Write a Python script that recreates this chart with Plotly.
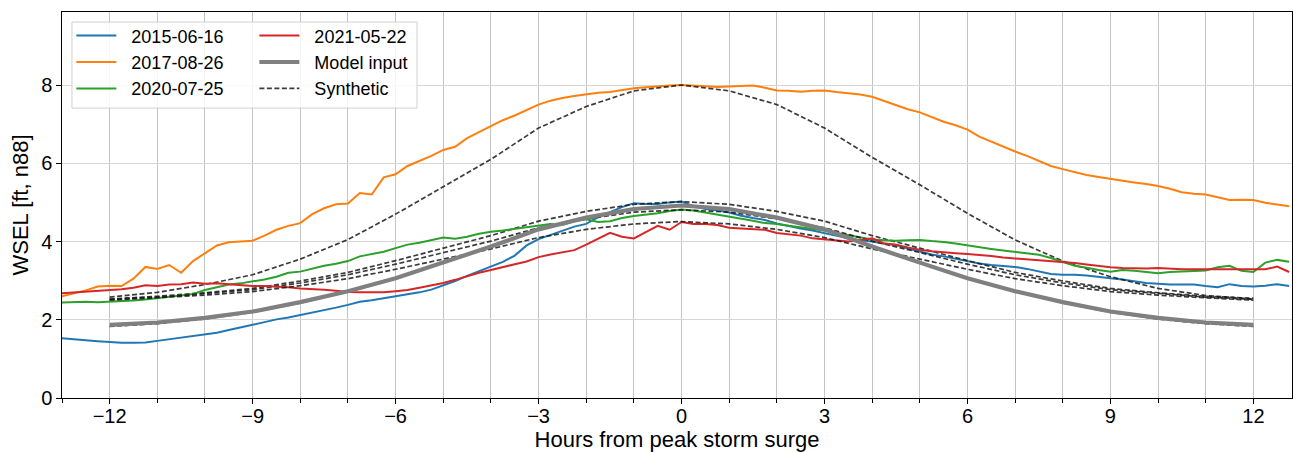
import numpy as np
import plotly.graph_objects as go

# ---------------- data ----------------
# observed water levels, 15-minute samples starting at -13 h (rows = one hour)
obs_2015 = [
    1.53, 1.50, 1.48, 1.45,  1.43, 1.41, 1.41, 1.42,  1.46, 1.50, 1.55, 1.59,
    1.63, 1.67, 1.74, 1.80,  1.87, 1.94, 2.01, 2.06,  2.12, 2.18, 2.25, 2.31,
    2.38, 2.46, 2.50, 2.55,  2.60, 2.64, 2.70, 2.77,  2.87, 2.99, 3.12, 3.24,
    3.35, 3.48, 3.64, 3.90,  4.06, 4.17, 4.28, 4.38,  4.45, 4.62, 4.75, 4.88,
    4.98, 4.96, 4.96, 5.00,  5.02, 4.90, 4.83, 4.80,  4.74, 4.66, 4.60, 4.55,
    4.46, 4.39, 4.33, 4.28,  4.21, 4.15, 4.08, 4.03,  4.00, 3.95, 3.91, 3.82,
    3.74, 3.67, 3.62, 3.56,  3.50, 3.44, 3.40, 3.38,  3.35, 3.30, 3.24, 3.17,
    3.15, 3.15, 3.13, 3.09,  3.06, 3.03, 2.98, 2.94,  2.92, 2.90, 2.90, 2.90,
    2.86, 2.83, 2.91, 2.86,  2.85, 2.87, 2.91, 2.86,
]
obs_2017 = [
    2.60, 2.68, 2.75, 2.85,  2.87, 2.86, 3.05, 3.35,  3.30, 3.40, 3.20, 3.50,
    3.70, 3.90, 3.98, 4.00,  4.02, 4.15, 4.30, 4.40,  4.47, 4.70, 4.85, 4.95,
    4.97, 5.24, 5.20, 5.64,  5.72, 5.93, 6.05, 6.19,  6.34, 6.42, 6.64, 6.80,
    6.96, 7.10, 7.22, 7.37,  7.50, 7.60, 7.67, 7.72,  7.76, 7.80, 7.82, 7.87,
    7.92, 7.94, 7.97, 7.99,  8.00, 7.99, 7.97, 7.95,  7.96, 7.97, 7.99, 7.93,
    7.86, 7.85, 7.83, 7.85,  7.86, 7.82, 7.79, 7.76,  7.70, 7.60, 7.48, 7.38,
    7.30, 7.18, 7.06, 6.97,  6.86, 6.68, 6.55, 6.43,  6.30, 6.19, 6.07, 5.93,
    5.85, 5.77, 5.70, 5.65,  5.60, 5.55, 5.51, 5.47,  5.42, 5.35, 5.26, 5.22,
    5.20, 5.13, 5.06, 5.07,  5.06, 4.99, 4.95, 4.90,
]
obs_2020 = [
    2.44, 2.45, 2.46, 2.45,  2.46, 2.47, 2.49, 2.52,  2.56, 2.59, 2.62, 2.66,
    2.76, 2.83, 2.90, 2.93,  2.98, 3.03, 3.10, 3.20,  3.23, 3.30, 3.38, 3.43,
    3.50, 3.62, 3.68, 3.74,  3.83, 3.92, 3.97, 4.03,  4.10, 4.07, 4.12, 4.20,
    4.25, 4.28, 4.32, 4.37,  4.40, 4.45, 4.42, 4.52,  4.57, 4.50, 4.52, 4.60,
    4.65, 4.68, 4.72, 4.78,  4.82, 4.79, 4.74, 4.68,  4.63, 4.58, 4.53, 4.47,
    4.45, 4.40, 4.36, 4.32,  4.28, 4.22, 4.16, 4.10,  4.05, 4.03, 4.02, 4.03,
    4.04, 4.01, 3.99, 3.95,  3.90, 3.86, 3.81, 3.77,  3.73, 3.70, 3.66, 3.58,
    3.47, 3.38, 3.33, 3.27,  3.23, 3.27, 3.25, 3.22,  3.19, 3.22, 3.23, 3.24,
    3.26, 3.34, 3.38, 3.25,  3.22, 3.46, 3.53, 3.48,
]
obs_2021 = [
    2.68, 2.70, 2.72, 2.73,  2.75, 2.78, 2.82, 2.88,  2.86, 2.90, 2.91, 2.95,
    2.92, 2.93, 2.91, 2.89,  2.86, 2.86, 2.85, 2.83,  2.80, 2.79, 2.77, 2.74,
    2.71, 2.70, 2.70, 2.70,  2.73, 2.76, 2.82, 2.88,  2.94, 3.02, 3.12, 3.20,
    3.27, 3.35, 3.42, 3.49,  3.60, 3.67, 3.72, 3.78,  3.92, 4.06, 4.22, 4.12,
    4.08, 4.24, 4.40, 4.30,  4.50, 4.45, 4.45, 4.42,  4.35, 4.33, 4.32, 4.30,
    4.22, 4.19, 4.15, 4.08,  4.05, 4.03, 4.00, 4.03,  4.08, 3.95, 3.92, 3.85,
    3.79, 3.75, 3.72, 3.70,  3.68, 3.66, 3.63, 3.59,  3.57, 3.55, 3.52, 3.50,
    3.48, 3.45, 3.41, 3.37,  3.34, 3.32, 3.31, 3.31,  3.32, 3.30, 3.29, 3.29,
    3.29, 3.29, 3.29, 3.28,  3.29, 3.29, 3.36, 3.22,
]
OBS_START = -13.0
OBS_STEP = 0.25

# synthetic hydrographs, hourly from -12 h to +12 h
syn_hours = list(range(-12, 13))
syn_2015 = [2.53, 2.60, 2.69, 2.80, 2.99, 3.21, 3.51, 3.83, 4.15, 4.52, 4.77, 4.95, 5.02,
            4.95, 4.77, 4.52, 4.15, 3.83, 3.51, 3.21, 2.99, 2.80, 2.69, 2.60, 2.55]
syn_2017 = [2.58, 2.70, 2.90, 3.15, 3.55, 4.05, 4.70, 5.40, 6.10, 6.90, 7.45, 7.85, 8.00,
            7.85, 7.50, 6.90, 6.15, 5.45, 4.72, 4.04, 3.50, 3.10, 2.80, 2.62, 2.53]
syn_2020 = [2.52, 2.58, 2.67, 2.77, 2.94, 3.15, 3.42, 3.72, 4.01, 4.35, 4.58, 4.75, 4.81,
            4.75, 4.58, 4.35, 4.01, 3.72, 3.42, 3.15, 2.94, 2.77, 2.67, 2.58, 2.52]
syn_2021 = [2.50, 2.56, 2.63, 2.72, 2.87, 3.05, 3.29, 3.55, 3.81, 4.10, 4.31, 4.45, 4.51,
            4.45, 4.31, 4.10, 3.81, 3.55, 3.29, 3.05, 2.87, 2.72, 2.63, 2.56, 2.50]
syn_model = [1.83, 1.90, 2.02, 2.19, 2.43, 2.72, 3.05, 3.45, 3.86, 4.30, 4.60, 4.82, 4.91,
             4.82, 4.60, 4.30, 3.86, 3.45, 3.05, 2.72, 2.43, 2.19, 2.02, 1.90, 1.83]
model_input = [1.87, 1.93, 2.05, 2.21, 2.45, 2.73, 3.06, 3.46, 3.87, 4.31, 4.61, 4.83, 4.92,
               4.83, 4.61, 4.31, 3.87, 3.46, 3.06, 2.73, 2.45, 2.21, 2.05, 1.93, 1.87]

event_labels = ["2015-06-16", "2017-08-26", "2020-07-25", "2021-05-22"]
event_obs = [obs_2015, obs_2017, obs_2020, obs_2021]
event_syn = [syn_2015, syn_2017, syn_2020, syn_2021]
event_colors = ["#1f77b4", "#ff7f0e", "#2ca02c", "#d62728"]

x_ticks = [-12, -9, -6, -3, 0, 3, 6, 9, 12]
y_ticks = [0, 2, 4, 6, 8]

# ---------------- figure ----------------
FONT = "Liberation Sans, Arial, sans-serif"
SYN_COLOR = "rgba(25,25,25,0.85)"
SYN_DASH = "5px,2.5px"
PAD = "\u00a0\u00a0"   # gap between legend line sample and label

fig = go.Figure()

# synthetic hydrograph for the model input (mostly hidden under the grey curve)
fig.add_trace(go.Scatter(x=syn_hours, y=syn_model, mode="lines",
                         line=dict(color=SYN_COLOR, width=1.7, dash=SYN_DASH),
                         showlegend=False, hoverinfo="skip"))

for i, (lab, obs, syn, col) in enumerate(zip(event_labels, event_obs, event_syn, event_colors)):
    hrs = OBS_START + OBS_STEP * np.arange(len(obs))
    leg = "legend" if i < 3 else "legend2"
    fig.add_trace(go.Scatter(x=hrs, y=obs, mode="lines", name=PAD + lab,
                             line=dict(color=col, width=2),
                             legend=leg, legendgroup=lab, legendrank=i + 1 if i < 3 else 1))
    fig.add_trace(go.Scatter(x=syn_hours, y=syn, mode="lines", name=PAD + "Synthetic",
                             line=dict(color=SYN_COLOR, width=1.7, dash=SYN_DASH),
                             showlegend=(i == 3), legend="legend2",
                             legendgroup="syn", legendrank=3))

# model input curve on the overlaid tick axis (drawn on top)
fig.add_trace(go.Scatter(x=syn_hours, y=model_input, mode="lines", name=PAD + "Model input",
                         xaxis="x2",
                         line=dict(color="#808080", width=4.2),
                         legend="legend2", legendgroup="model", legendrank=2))

# legend frame (two-column legend)
fig.add_shape(type="rect", xref="paper", yref="paper",
              x0=0.0081, x1=0.2886, y0=0.751, y1=0.974,
              fillcolor="rgba(255,255,255,0.85)", line=dict(color="#d0d0d0", width=1),
              layer="above")

leg_common = dict(font=dict(family=FONT, size=18, color="black"),
                  bgcolor="rgba(0,0,0,0)", borderwidth=0,
                  xanchor="left", yanchor="top", traceorder="grouped",
                  tracegroupgap=0, itemwidth=40)
fig.update_layout(
    width=1293, height=452,
    margin=dict(l=62, r=1, t=12, b=54),
    paper_bgcolor="white", plot_bgcolor="white",
    font=dict(family=FONT, size=20, color="black"),
    legend=dict(x=0.0076, y=0.986, **leg_common),
    legend2=dict(x=0.1564, y=0.986, **leg_common),
    xaxis=dict(
        range=[-13.0, 12.81], tickmode="array", tickvals=x_ticks,
        ticks="", tickfont=dict(size=20),
        showline=True, linecolor="black", linewidth=1.2, mirror=True,
        showgrid=True, gridcolor="#c4c4c4", gridwidth=1, zeroline=False,
        minor=dict(dtick=1, tick0=0, ticks="outside", ticklen=3.5, tickcolor="black",
                   showgrid=True, gridcolor="#c4c4c4", gridwidth=1),
        title=dict(text="Hours from peak storm surge", font=dict(size=22), standoff=4),
    ),
    xaxis2=dict(
        overlaying="x", matches="x", anchor="y", side="bottom",
        tickmode="array", tickvals=x_ticks, ticks="outside", ticklen=5,
        tickwidth=1, tickcolor="black", showticklabels=False,
        showgrid=False, showline=False, zeroline=False,
    ),
    yaxis=dict(
        range=[0, 9.866], tickmode="array", tickvals=y_ticks,
        ticks="outside", ticklen=4.5, tickwidth=1, tickcolor="black",
        tickfont=dict(size=20),
        showline=True, linecolor="black", linewidth=1.2, mirror=True,
        showgrid=True, gridcolor="#d6d6d6", gridwidth=1, zeroline=False,
        title=dict(text="WSEL [ft, n88]", font=dict(size=22), standoff=6),
    ),
)

fig.write_html("out.html")
